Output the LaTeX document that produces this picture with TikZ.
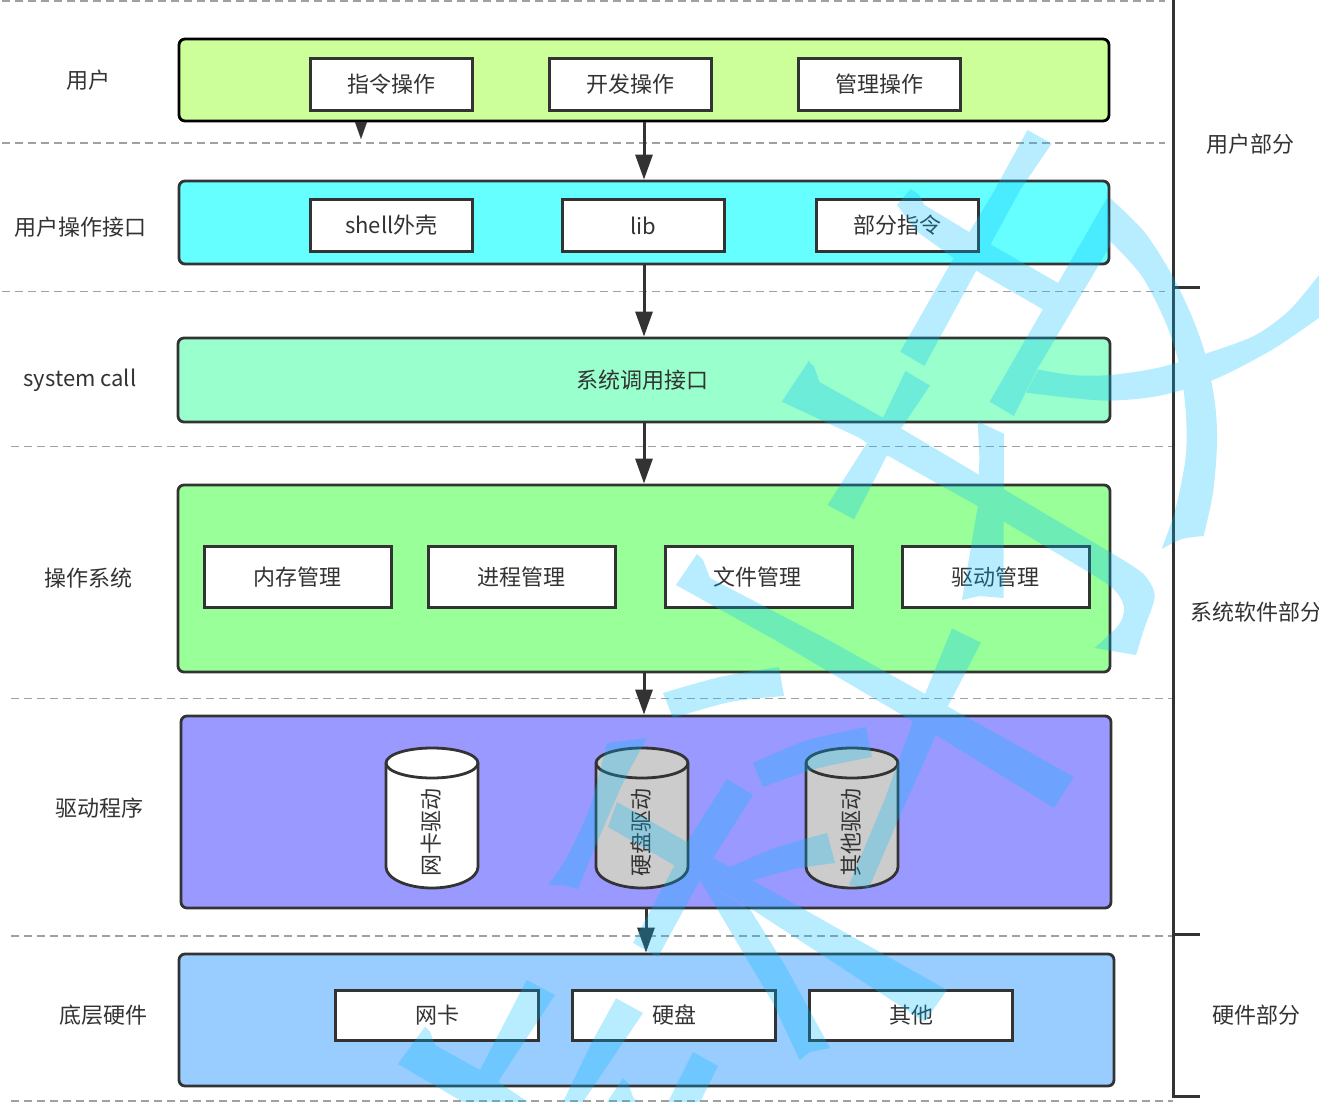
\documentclass[tikz,border=0pt]{standalone}
\usepackage{fontspec}
\setmainfont{Noto Sans CJK SC}
\usetikzlibrary{arrows.meta}
\definecolor{ink}{HTML}{333333}
\definecolor{txt}{HTML}{333333}
\definecolor{dashgray}{HTML}{A0A0A0}
\definecolor{wmblue}{RGB}{0,187,255}
\definecolor{drumgray}{HTML}{CCCCCC}
\definecolor{cuser}{HTML}{CCFF99}
\definecolor{ciface}{HTML}{66FFFF}
\definecolor{csys}{HTML}{99FFCC}
\definecolor{cos}{HTML}{99FF99}
\definecolor{cdrv}{HTML}{9999FF}
\definecolor{chw}{HTML}{99CCFF}
\tikzset{
  x=1pt,y=-1pt,
  every node/.style={font=\fontsize{22}{24}\selectfont,text=txt,inner sep=0pt},
  band/.style={draw=ink,line width=2.8pt,rounded corners=6pt},
  itembox/.style={draw=ink,line width=3pt,fill=white,minimum width=#1,minimum height=52pt},
  drumline/.style={draw=ink,line width=2.8pt},
  drumtext/.style={rotate=90},
  flow/.style={draw=ink,line width=3pt,-{Triangle[length=25pt,width=17pt]}},
  stub/.style={draw=ink,line width=0.1pt,-{Triangle[length=17pt,width=12pt]}},
  sep/.style={draw=dashgray,line width=1.4pt,dash pattern=on 8pt off 5pt},
  rail/.style={draw=ink,line width=3pt},
  wm/.style={fill=wmblue},
}
\newcommand{\drumshape}[2]{%
  \begin{scope}[shift={(#1,0)}]
    \draw[drumline,fill=#2] (-46,763) -- (-46,867) .. controls (-46,878.5) and (-25,888) .. (0,888)
      .. controls (25,888) and (46,878.5) .. (46,867) -- (46,763)
      .. controls (46,754.5) and (25,748) .. (0,748) .. controls (-25,748) and (-46,754.5) .. (-46,763) -- cycle;
    \draw[drumline] (-46,763) .. controls (-46,771.5) and (-25,778) .. (0,778) .. controls (25,778) and (46,771.5) .. (46,763);
  \end{scope}}
\begin{document}
\begin{tikzpicture}
\useasboundingbox (0,0) rectangle (1319,1102);
% separators
\coordinate (s0a) at (2,1);      \coordinate (s0b) at (1165,1);
\coordinate (s1a) at (2,143);    \coordinate (s1b) at (1165,143);
\coordinate (s2a) at (2,291.5);  \coordinate (s2b) at (1165,291.5);
\coordinate (s3a) at (11,446.5); \coordinate (s3b) at (1173,446.5);
\coordinate (s4a) at (11,698.5); \coordinate (s4b) at (1173,698.5);
\coordinate (s5a) at (11,936);   \coordinate (s5b) at (1173,936);
\coordinate (s6a) at (11,1101);  \coordinate (s6b) at (1173,1101);
\foreach \k in {0,...,6} \draw[sep] (s\k a) -- (s\k b);
% bands
\node[band,draw=black,fill=cuser,minimum width=930pt,minimum height=82pt] (user) at (644,80) {};
\node[band,fill=ciface,minimum width=930pt,minimum height=83pt] (iface) at (644,222.5) {};
\node[band,fill=csys,minimum width=932pt,minimum height=84pt] (sys) at (644,380) {};
\node[band,fill=cos,minimum width=932pt,minimum height=187pt] (os) at (644,578.5) {};
\node[band,fill=cdrv,minimum width=930pt,minimum height=192pt] (drv) at (646,812) {};
\node[band,fill=chw,minimum width=935pt,minimum height=132pt] (hw) at (646.5,1020) {};
% connectors
\coordinate (stubend) at (361,139);
\draw[stub] (user.south -| stubend) -- (stubend);
\draw[flow] (user.south) -- (iface.north);
\draw[flow] (iface.south) -- (sys.north);
\draw[flow] (sys.south) -- (os.north);
\draw[flow] (os.south) -- (os.south |- drv.north);
\draw[flow] (drv.south) -- (drv.south |- hw.north);
% items
\node[itembox=162.5pt] (u1) at (391.5,84.5) {指令操作};
\node[itembox=162.5pt] (u2) at (630.5,84.5) {开发操作};
\node[itembox=162.5pt] (u3) at (879.5,84.5) {管理操作};
\node[itembox=162.5pt] (i1) at (391.5,225.5) {shell外壳};
\node[itembox=162.5pt] (i2) at (643.5,225.5) {lib};
\node[itembox=162.5pt] (i3) at (897.5,225.5) {部分指令};
\node (systxt) at (642,380) {系统调用接口};
\node[itembox=187.5pt,minimum height=61.5pt] (o1) at (298,577) {\hspace*{-2pt}内存管理};
\node[itembox=187.5pt,minimum height=61.5pt] (o2) at (522,577) {\hspace*{-2pt}进程管理};
\node[itembox=187.5pt,minimum height=61.5pt] (o3) at (759,577) {\hspace*{-4pt}文件管理};
\node[itembox=187.5pt,minimum height=61.5pt] (o4) at (996,577) {\hspace*{-2pt}驱动管理};
\drumshape{432}{white}
\drumshape{642}{drumgray}
\drumshape{852}{drumgray}
\node[drumtext] (d1) at (431,832.5) {网卡驱动};
\node[drumtext] (d2) at (641,832.5) {硬盘驱动};
\node[drumtext] (d3) at (851,832.5) {其他驱动};
\node[itembox=203.5pt,minimum height=50.5pt] (h1) at (437,1015.5) {网卡};
\node[itembox=203.5pt,minimum height=50.5pt] (h2) at (674,1015.5) {硬盘};
\node[itembox=203.5pt,minimum height=50.5pt] (h3) at (911,1015.5) {其他};
% left labels
\node (l1) at (88,80) {用户};
\node (l2) at (80,227) {用户操作接口};
\node (l3) at (80,380.5) {system call};
\node (l4) at (88,578) {操作系统};
\node (l5) at (99,808) {驱动程序};
\node (l6) at (103,1015) {底层硬件};
% right rail
\coordinate (rt) at (1173,0);
\coordinate (rb) at (1173,1096);
\coordinate (t1) at (1200,287);
\coordinate (t2) at (1200,934);
\coordinate (t3) at (1200,1096);
\draw[rail] (rt) -- (rb) -- (t3);
\draw[rail] (rt |- t1) -- (t1);
\draw[rail] (rt |- t2) -- (t2);
\node (r1) at (1250,144) {用户部分};
\node (r2) at (1256,612) {系统软件部分};
\node (r3) at (1256,1015) {硬件部分};
% watermark
\begin{scope}[transparency group,opacity=.28]
\fill[wm] (1027.5,130)--(1051.6,143.6)--(1020.7,189)--(976,271)--(924.4,366)--(900.3,351.7)--(952,260.7)--(993,193)--cycle;
\fill[wm] (910.6,189)--(919,194.6)--(924.4,205)--(972.5,234)--(1060,284)--(1045,310.6)--(976,270.6)--(955,259)--(917.5,232)--(897,205)--cycle;
\fill[wm] (1108,196)--(989.7,401.7)--(1013.8,416)--(1038,367.8)--(1110,246)--cycle;
% big arc
\fill[wm] plot[smooth] coordinates {(1110,198) (1144.4,232) (1172,275) (1192.5,318) (1206,357) (1215,403.5) (1217,442.7) (1213,492.7) (1203.6,536)}
  -- plot[smooth] coordinates {(1203.6,536) (1182,539) (1161.6,549)}
  -- plot[smooth] coordinates {(1161.6,549) (1175,510.6) (1185.7,457) (1185.7,410.6) (1179,364) (1165,321) (1141,275) (1110,241)} -- cycle;
% cross arc
\fill[wm] plot[smooth] coordinates {(1319,275) (1289,310.6) (1254.5,335.6) (1206,353.5) (1158,367.8) (1110,375) (1072,375) (1038,369.5)}
  -- plot[smooth] coordinates {(1026,392.7) (1072,398) (1110,400.6) (1158,396) (1213,380) (1271.6,350) (1319,317.8)} -- cycle;
\fill[wm] (905.5,371)--(930,385.6)--(900,430)--(854,519.5)--(827.5,505)--(883,417.7)--cycle;
% long hooked stroke
\fill[wm] (781.7,401.7)--(809,360.6) to[out=-60,in=170] (814,366) -- (819.5,382)--(883,417.7)--(979.4,475)--(1003.5,489)--(1124,560.5)
  plot[smooth] coordinates {(1124,560.5) (1144.4,575) (1154.7,596) (1144.4,628) (1136,655)}
  -- (1094.6,648)
  -- plot[smooth] coordinates {(1094.6,648) (1118.6,625) (1124,607) (1113.5,589) (1085,570)}
  --(1002.8,521)--(979.4,507)--(886.6,455)--(821,414)--cycle;
\fill[wm] (977.7,421.3)--(1004,433.8)--(1003.5,598)--(979.4,596)--(962,600)--(977.7,507)--(979.4,457)--cycle;
\fill[wm] (952,628.4)--(981,642.6)--(947,708)--(936,735)--(898,820)--(869,888)--(849,885)--(884.4,800)--(913.5,720)--(924.6,695)--cycle;
\fill[wm] (676,585)--(697,554)--(703,560)--(710,578)--(828.6,640)--(1074,777)--(1054,808)--(936,735)--(775,640)--cycle;
\fill[wm] plot[smooth] coordinates {(663,693) (720,677) (779,667)} -- plot[smooth] coordinates {(784,696) (730,702) (673,718)} -- cycle;
\fill[wm] plot[smooth] coordinates {(753,763) (805,741) (866,727)} -- plot[smooth] coordinates {(872,757) (815,769) (763,787)} -- cycle;
\fill[wm] plot[smooth] coordinates {(647,738) (623,783) (596,845) (578,889)} -- (563,885) -- (548,885)
  -- plot[smooth] coordinates {(548,885) (567,857) (590,807) (607,743)} -- cycle;
\fill[wm] (617,802)--(687,842)--(713,858)--(947,990)--(924.6,1021.7)--(753,910)--(700,880)--(679,868)--(608,827)--cycle;
\fill[wm] (727,779)--(753,795)--(713,858)--(700,880)--(658,957)--(633,943)--(687,842)--cycle;
\fill[wm] plot[smooth] coordinates {(730,867) (775,848) (827,833)} -- plot[smooth] coordinates {(835,863) (795,869) (753,880)} -- (700,880) -- (713,858) -- cycle;
\fill[wm] (700,880)--(750.5,910)--(786,967)--(830,1048)--(810,1052)--(799.6,1060)--(773,1003)--cycle;
% lower left
\fill[wm] (526.7,980)--(555,995)--(498,1081.7)--(480,1070)--cycle;
\fill[wm] (398,1064)--(425,1026.7)--(430,1031.7)--(435,1045)--(480,1070)--(498,1081.7)--(528,1102)--(463,1102)--cycle;
\fill[wm] (616,998.3)--(643,1013)--(593,1087)--(583,1102)--(563,1102)--(593,1040)--cycle;
\fill[wm] (693,1052)--(718,1066)--(700,1102)--(668,1102)--cycle;
\fill[wm] (623,1078)--(628,1083)--(633,1097)--(638,1102)--(607,1102)--cycle;
\end{scope}
\end{tikzpicture}
\end{document}
